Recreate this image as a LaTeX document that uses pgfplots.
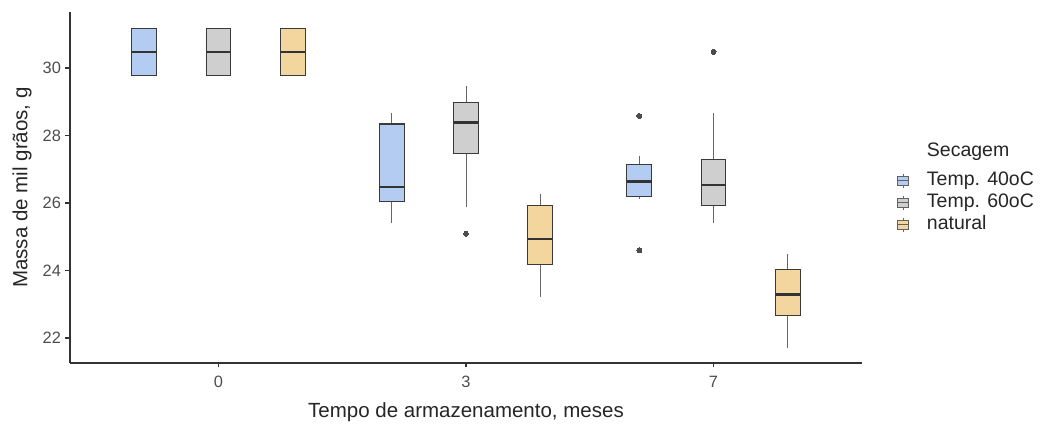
\documentclass[border=0pt]{standalone}
\usepackage{fontspec}
\setmainfont{Liberation Sans}
\usepackage{pgfplots}
\pgfplotsset{compat=1.18}
\usepgfplotslibrary{statistics}
\definecolor{blueC}{HTML}{B4CCF2}
\definecolor{grayC}{HTML}{CFCFCF}
\definecolor{tanC}{HTML}{F2D69E}
\definecolor{edgeC}{HTML}{3A3A3A}
\definecolor{axC}{HTML}{333333}
\definecolor{tickC}{HTML}{4D4D4D}
\pgfplotsset{
  bx/.style={boxplot prepared={box extend=0.1, whisker extend=0, draw direction=y}, fill=#1, draw=edgeC, line width=1.1bp, solid,
    mark=*, mark size=2.5bp, mark options={fill=black!70, draw=black!70, line width=0bp}, forget plot,
    boxplot/every median/.style={line width=2.4bp, draw=black!80},
    boxplot/every whisker/.style={line width=0.9bp, draw=black!60}},
  boxlegend/.style={legend image code/.code={
    \draw[draw=black!60, line width=0.9bp] (5.5bp,-7bp) -- (5.5bp,7bp);
    \draw[fill=#1, draw=edgeC!80, line width=0.8bp] (0bp,-4.5bp) rectangle (11bp,4.5bp);
    \draw[draw=edgeC!80, line width=0.9bp] (0bp,0bp) -- (11bp,0bp);
  }},
}
\begin{document}
\begin{tikzpicture}
\path[use as bounding box] (-70bp,-64bp) rectangle (971bp,363bp);
\begin{axis}[
  at={(0,0)}, anchor=south west,
  scale only axis, width=792bp, height=351bp,
  xmin=0.4, xmax=3.6, ymin=21.26, ymax=31.66,
  axis x line*=bottom, axis y line*=left,
  axis line style={draw=axC, line width=1.1bp},
  xtick={1,2,3}, xticklabels={0,3,7},
  ytick={22,24,26,28,30},
  tick align=outside, major tick length=4.5bp,
  tick style={draw=axC, line width=1.1bp},
  /pgf/number format/assume math mode=true,
  ticklabel style={font=\fontsize{16.4bp}{19bp}\selectfont, text=tickC},
  xticklabel style={yshift=-5bp},
  yticklabel style={xshift=-1bp},
  xlabel={Tempo de armazenamento, meses},
  ylabel={Massa de mil grãos, g},
  label style={font=\fontsize{20.5bp}{24bp}\selectfont, text=black!85},
  xlabel style={at={(axis description cs:0.5,-0.14)}, anchor=center},
  ylabel style={at={(axis description cs:-0.0606,0.5)}, anchor=center},
  legend style={at={(axis description cs:1.044,0.456)}, anchor=west, draw=none, fill=none,
    inner sep=0pt, row sep=2bp, font=\fontsize{19.5bp}{22bp}\selectfont, text=black!85,
    nodes={inner sep=1bp, text height=14bp, text depth=4bp},
    /tikz/every odd column/.append style={column sep=17bp}},
  legend cell align=left,
  clip=false,
]
% month 0
\addplot[bx=blueC, boxplot prepared={draw position=0.7, lower whisker=29.77, lower quartile=29.77, median=30.48, upper quartile=31.18, upper whisker=31.18}] coordinates {};
\addplot[bx=grayC, boxplot prepared={draw position=1.0, lower whisker=29.77, lower quartile=29.77, median=30.48, upper quartile=31.18, upper whisker=31.18}] coordinates {};
\addplot[bx=tanC, boxplot prepared={draw position=1.3, lower whisker=29.77, lower quartile=29.77, median=30.48, upper quartile=31.18, upper whisker=31.18}] coordinates {};
% month 3
\addplot[bx=blueC, boxplot prepared={draw position=1.7, lower whisker=25.40, lower quartile=26.04, median=26.48, upper quartile=28.34, upper whisker=28.68}] coordinates {};
\addplot[bx=grayC, boxplot prepared={draw position=2.0, lower whisker=25.89, lower quartile=27.46, median=28.39, upper quartile=28.98, upper whisker=29.48}] coordinates {(0,25.09)};
\addplot[bx=tanC, boxplot prepared={draw position=2.3, lower whisker=23.21, lower quartile=24.18, median=24.94, upper quartile=25.92, upper whisker=26.27}] coordinates {};
% month 7
\addplot[bx=blueC, boxplot prepared={draw position=2.7, lower whisker=26.11, lower quartile=26.19, median=26.64, upper quartile=27.14, upper whisker=27.38}] coordinates {(0,28.58) (0,24.60)};
\addplot[bx=grayC, boxplot prepared={draw position=3.0, lower whisker=25.42, lower quartile=25.92, median=26.54, upper quartile=27.29, upper whisker=28.67}] coordinates {(0,30.48)};
\addplot[bx=tanC, boxplot prepared={draw position=3.3, lower whisker=21.70, lower quartile=22.67, median=23.29, upper quartile=24.02, upper whisker=24.48}] coordinates {};
\addlegendimage{boxlegend=blueC}
\addlegendentry{Temp. 40oC}
\addlegendimage{boxlegend=grayC}
\addlegendentry{Temp. 60oC}
\addlegendimage{boxlegend=tanC}
\addlegendentry{natural}
\node[anchor=base, font=\fontsize{19.5bp}{22bp}\selectfont, text=black!85] at (axis description cs:1.134,0.587) {Secagem};
\end{axis}
\end{tikzpicture}
\end{document}
